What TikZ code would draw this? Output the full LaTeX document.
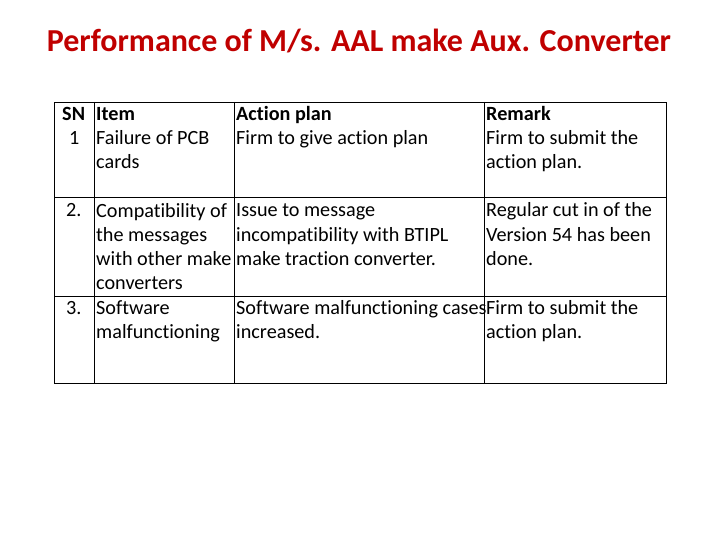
\documentclass[tikz,border=0pt]{standalone}
\usepackage{fontspec}
\setmainfont[Ligatures={NoCommon}]{Carlito}
\definecolor{titlered}{HTML}{C00000}
\begin{document}
\begin{tikzpicture}[x=1pt,y=-1pt,
  cell/.style={anchor=north west,inner sep=0pt,align=left,font=\fontsize{20.2}{24}\selectfont},
  grid/.style={draw=black,line width=0.7pt}]
\useasboundingbox (0,0) rectangle (720,540);
\node[font=\fontsize{32}{38}\selectfont\bfseries,text=titlered,anchor=base] (title) at (359,52) {Performance of M/s. AAL make Aux. Converter};
\draw[grid] (54,102) rectangle (666,383);
\draw[grid] (94,102) -- (94,383) (234,102) -- (234,383) (484,102) -- (484,383);
\draw[grid] (54,197) -- (666,197) (54,296) -- (666,296);
\def\S{\strut}
\node[cell] (h1) at (62,104) {\S\textbf{SN}};
\node[cell] (h2) at (96,104) {\S\textbf{Item}};
\node[cell] (h3) at (236,104) {\S\textbf{Action plan}};
\node[cell] (h4) at (486,104) {\S\textbf{Remark}};
\node[cell] (a1) at (69,128) {\S 1};
\node[cell] (a2) at (96,128) {\S Failure of PCB\\cards};
\node[cell] (a3) at (236,128) {\S Firm to give action plan};
\node[cell] (a4) at (486,128) {\S Firm to submit the\\action plan.};
\node[cell] (b1) at (66,200) {\S 2.};
\node[cell] (b2) at (96,200) {\S Compatibility of\\the messages\\with other make\\converters};
\node[cell] (b3) at (236,200) {\S Issue to message\\incompatibility with BTIPL\\make traction converter.};
\node[cell] (b4) at (486,200) {\S Regular cut in of the\\Version 54 has been\\done.};
\node[cell] (c1) at (66,297) {\S 3.};
\node[cell] (c2) at (96,297) {\S Software\\malfunctioning};
\node[cell] (c3) at (236,297) {\S Software malfunctioning cases\\increased.};
\node[cell] (c4) at (486,297) {\S Firm to submit the\\action plan.};
\end{tikzpicture}
\end{document}
